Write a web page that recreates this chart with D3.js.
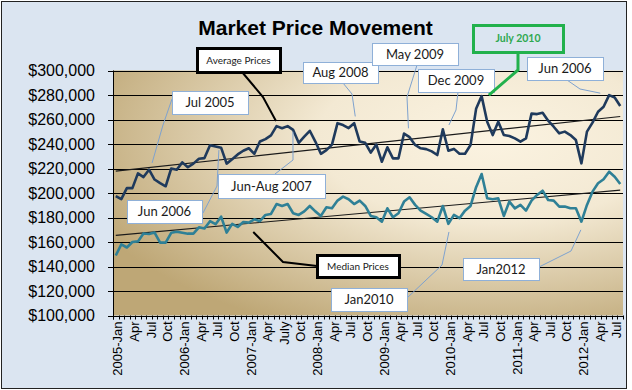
<html>
	<head>
		<meta charset="utf-8">
		<title>Market Price Movement</title>
		<style>
			body { margin: 0; background: #fff; }
			svg { display: block; font-family: "Liberation Sans", Arial, sans-serif; }
			.title { font-size: 21px; font-weight: bold; fill: #000; }
			.yLabel { font-size: 16px; fill: #000; }
			.xLabel { font-size: 13px; fill: #000; }
			.grid { stroke: #000; stroke-width: 1; }
			.trend { stroke: #1a1a1a; stroke-width: 1.1; fill: none; }
			.callout text { font-family: Lato, "Open Sans", sans-serif; font-size: 13px; fill: #1a1a1a; }
			.callout.small text { font-size: 10px; }
			.callout.green text { font-size: 10.5px; font-weight: bold; fill: #2fa84f; }
		</style>
	</head>
	<body>
		<div id="chart"></div>

		<script src="https://cdn.jsdelivr.net/npm/d3@7"></script>
		<script>
			// months Jan 2005 .. Aug 2012
			var years = [2005, 2006, 2007, 2008, 2009, 2010, 2011, 2012]
			var monthNames = ["Jan", "Feb", "Mar", "Apr", "May", "Jun", "Jul", "Aug", "Sep", "Oct", "Nov", "Dec"]
			var lastMonth = "2012-Aug"

			// tick labels, one every 3 months
			var tickLabels = ["2005-Jan", "Apr", "Jul", "Oct", "2006-Jan", "Apr", "Jul", "Oct",
				"2007-Jan", "Apr", "July", "Oct", "2008-Jan", "Apr", "Jul", "Oct",
				"2009-Jan", "Apr", "Jul", "Oct", "2010-Jan", "Apr", "Jul", "Oct",
				"2011-Jan", "Apr", "Jul", "Oct", "2012-Jan", "Apr", "Jul"]

			// average prices, thousands of $
			var averagePrice = [
				197.5, 195, 204, 204, 216, 213, 219, 211, 208, 205.5, 220, 219,
				225, 221, 224, 228, 228.5, 239, 238, 237, 224, 227.5, 231.5, 234.5,
				236.5, 232, 242, 244, 247, 254.6, 252.8, 254.6, 251.5, 241, 246, 250.8,
				242, 232, 235, 239.5, 257, 255.5, 253, 257, 242, 241, 233, 239.5,
				225.5, 237.3, 228.3, 228.3, 248.5, 245.6, 239.2, 236.5, 235.8, 234, 231, 252,
				234.5, 236, 232, 232, 239.2, 268.7, 279.1, 258.2, 247.3, 258.2, 247.3, 246.5,
				244.6, 241.9, 244.6, 264.8, 264.4, 265.5, 259, 254.1, 248.7, 250.1, 247.3, 243.2,
				224.2, 250.1, 257.4, 266.3, 270.4, 279.9, 278, 271]

			// median prices, thousands of $
			var medianPrice = [
				149, 158, 155.5, 160, 160.5, 167, 166.5, 167.7, 159.5, 159.5, 167.5, 168.3,
				167.5, 166.8, 166.8, 172, 171, 177, 174.5, 180.7, 167.7, 174.8, 172.3, 176.3,
				175.8, 178.5, 177, 182.1, 182.9, 191, 189.4, 191, 183.5, 182.1, 185, 189.4,
				185, 181.3, 188.4, 187.5, 193.8, 197, 194.9, 191, 193.8, 189.4, 181.3, 180.2,
				176.6, 187.5, 180.2, 183.5, 193, 196.5, 190.3, 185.6, 182.9, 180.2, 176.6, 189.4,
				174.8, 182.1, 179.4, 185.6, 189.4, 204.7, 215.5, 195.7, 194.9, 195.7, 181.3, 193,
				187.5, 190.3, 185.6, 193.8, 198.4, 201.9, 194.3, 193.8, 188.9, 188.9, 187.5, 187.5,
				176.6, 190.3, 201.1, 207.9, 211.2, 217.4, 213.3, 207.3]

			var yTicks = [100000, 120000, 140000, 160000, 180000, 200000, 220000, 240000, 260000, 280000, 300000]

			// callouts: box in pixels, bend points in pixels, "to" = [month index, price]
			var callouts = [
				{ text: "Jun 2006", cls: "", box: [127, 200, 75, 23], path: [[203, 213], [217, 186]], to: [18.6, 235000] },
				{ text: "Average Prices", cls: "small black", box: [197, 48, 83, 24], path: [[242, 72], [263, 97]], to: [28.9, 258800] },
				{ text: "Jul 2005", cls: "", box: [172, 91, 76, 23], path: [[172, 99], [163, 125]], to: [6.55, 224500] },
				{ text: "Aug 2008", cls: "", box: [303, 62, 75, 21], path: [[343, 83], [352, 94]], to: [43.2, 262500] },
				{ text: "May 2009", cls: "", box: [372, 43, 86, 22], path: [[417, 65], [407, 97]], to: [52.8, 252800] },
				{ text: "Dec 2009", cls: "", box: [418, 69, 76, 23], path: [[458, 92], [456, 110]], to: [60.1, 255500] },
				{ text: "July 2010", cls: "green", box: [473, 25, 90, 27], path: [[518, 52], [518, 70]], to: [67.3, 279900] },
				{ text: "Jun 2006", cls: "", box: [527, 57, 76, 23], path: [[567, 80], [580, 89]], to: [87.4, 281500] },
				{ text: "Jun-Aug 2007", cls: "", box: [218, 174, 107, 24], path: [[275, 174], [293, 160]], to: [31.96, 250000] },
				{ text: "Median Prices", cls: "small black", box: [317, 255, 82, 22], path: [[317, 266], [283, 262]], to: [24.8, 168200] },
				{ text: "Jan2010", cls: "", box: [331, 288, 76, 23], path: [[407, 298], [442, 265]], to: [60.1, 168200] },
				{ text: "Jan2012", cls: "", box: [463, 258, 76, 22], path: [[539, 267], [571, 251]], to: [83.9, 169900] }
			]

			var months = []
			years.forEach(function(y) {
				monthNames.forEach(function(m) {
					if(months.length && months[months.length - 1] === lastMonth) return
					months.push(y + "-" + m)
				})
			})

			var width = 632, height = 390
			var plot = { left: 113, right: 623, top: 70.5, bottom: 315.5 }

			var svg = d3.select("#chart").append("svg")
				.attr("width", width)
				.attr("height", height)

			var x = d3.scaleLinear()
				.domain([-0.5, months.length - 0.5])
				.range([plot.left, plot.right])

			var y = d3.scaleLinear()
				.domain([100000, 300000])
				.range([plot.bottom, plot.top])

			// backgrounds
			svg.append("rect")
				.attr("x", 1.5).attr("y", 1.5)
				.attr("width", 625).attr("height", 387)
				.attr("fill", "#dbe5f1")
				.attr("stroke", "#222")

			var grad = svg.append("defs").append("radialGradient")
				.attr("id", "plotBg")
				.attr("cx", 0.74).attr("cy", 0.28).attr("r", 0.85)
				.attr("fx", 0.74).attr("fy", 0.28)
			grad.append("stop").attr("offset", 0).attr("stop-color", "#fbf3e1")
			grad.append("stop").attr("offset", 0.4).attr("stop-color", "#f3e9d3")
			grad.append("stop").attr("offset", 1).attr("stop-color", "#bea776")

			svg.append("rect")
				.attr("x", plot.left).attr("y", plot.top)
				.attr("width", plot.right - plot.left)
				.attr("height", plot.bottom - plot.top)
				.attr("fill", "url(#plotBg)")

			svg.append("text")
				.attr("class", "title")
				.attr("x", 315.5).attr("y", 35)
				.attr("text-anchor", "middle")
				.text("Market Price Movement")

			// gridlines
			svg.selectAll(".grid")
				.data(yTicks)
				.enter().append("line")
				.attr("class", "grid")
				.attr("x1", plot.left).attr("x2", plot.right)
				.attr("y1", function(d) { return Math.round(y(d)) + 0.5 })
				.attr("y2", function(d) { return Math.round(y(d)) + 0.5 })

			// y axis
			svg.append("line")
				.attr("x1", plot.left + 0.5).attr("x2", plot.left + 0.5)
				.attr("y1", plot.top).attr("y2", plot.bottom + 4)
				.attr("stroke", "#000")
			svg.selectAll(".yTick")
				.data(yTicks)
				.enter().append("line")
				.attr("class", "yTick")
				.attr("x1", plot.left - 5).attr("x2", plot.left)
				.attr("y1", function(d) { return Math.round(y(d)) + 0.5 })
				.attr("y2", function(d) { return Math.round(y(d)) + 0.5 })
				.attr("stroke", "#000")

			var fmt = d3.format(",")
			svg.selectAll(".yLabel")
				.data(yTicks)
				.enter().append("text")
				.attr("class", "yLabel")
				.attr("x", 95)
				.attr("y", function(d) { return y(d) })
				.attr("dy", "0.36em")
				.attr("text-anchor", "end")
				.text(function(d) { return "$" + fmt(d) })

			// x axis ticks (every month) and labels (every 3 months)
			svg.selectAll(".xTick")
				.data(d3.range(months.length + 1))
				.enter().append("line")
				.attr("class", "xTick")
				.attr("x1", function(d) { return Math.round(x(d - 0.5)) + 0.5 })
				.attr("x2", function(d) { return Math.round(x(d - 0.5)) + 0.5 })
				.attr("y1", plot.bottom).attr("y2", plot.bottom + 4)
				.attr("stroke", "#000")

			svg.selectAll(".xLabel")
				.data(tickLabels)
				.enter().append("text")
				.attr("class", "xLabel")
				.attr("transform", function(d, i) { return "translate(" + (x(i * 3) + 2) + "," + (plot.bottom + 6) + ") rotate(-90)" })
				.attr("dy", "0.36em")
				.attr("text-anchor", "end")
				.text(function(d) { return d })

			// trend lines (least squares)
			function trend(values) {
				var idx = d3.range(values.length)
				var mi = d3.mean(idx), mv = d3.mean(values)
				var num = d3.sum(idx, function(i) { return (i - mi) * (values[i] - mv) })
				var den = d3.sum(idx, function(i) { return (i - mi) * (i - mi) })
				var b = num / den, a = mv - b * mi
				return [[0, a], [values.length - 1, a + b * (values.length - 1)]]
			}

			var line = d3.line()
				.x(function(d) { return x(d[0]) })
				.y(function(d) { return y(d[1] * 1000) })

			var series = [
				{ values: averagePrice, color: "#1f3a5c" },
				{ values: medianPrice, color: "#2f8096" }
			]

			series.forEach(function(s) {
				svg.append("path")
					.attr("class", "trend")
					.attr("d", line(trend(s.values)))
			})

			series.forEach(function(s) {
				svg.append("path")
					.attr("fill", "none")
					.attr("stroke", s.color)
					.attr("stroke-width", 2.6)
					.attr("stroke-linejoin", "round")
					.attr("d", line(s.values.map(function(v, i) { return [i, v] })))
			})

			// callouts
			var c = svg.selectAll(".callout")
				.data(callouts)
				.enter().append("g")
				.attr("class", function(d) { return "callout " + d.cls })

			c.append("path")
				.attr("fill", "none")
				.attr("stroke", function(d) {
					if(d.cls.indexOf("black") >= 0) return "#000"
					if(d.cls === "green") return "#22b14c"
					return "#7ea2cf"
				})
				.attr("stroke-width", function(d) { return d.cls === "" ? 1 : (d.cls === "green" ? 3 : 2) })
				.attr("d", function(d) {
					return d3.line()(d.path.concat([[x(d.to[0]), y(d.to[1])]]))
				})

			c.append("rect")
				.attr("x", function(d) { return d.box[0] + 0.5 })
				.attr("y", function(d) { return d.box[1] + 0.5 })
				.attr("width", function(d) { return d.box[2] })
				.attr("height", function(d) { return d.box[3] })
				.attr("fill", function(d) { return d.cls === "green" ? "#dbe5f1" : "#fff" })
				.attr("stroke", function(d) {
					if(d.cls.indexOf("black") >= 0) return "#000"
					if(d.cls === "green") return "#22b14c"
					return "#8fb0d8"
				})
				.attr("stroke-width", function(d) { return d.cls === "" ? 1 : 3 })

			c.append("text")
				.attr("x", function(d) { return d.box[0] + d.box[2] / 2 })
				.attr("y", function(d) { return d.box[1] + d.box[3] / 2 })
				.attr("dy", "0.36em")
				.attr("text-anchor", "middle")
				.text(function(d) { return d.text })
		</script>
	</body>
</html>
